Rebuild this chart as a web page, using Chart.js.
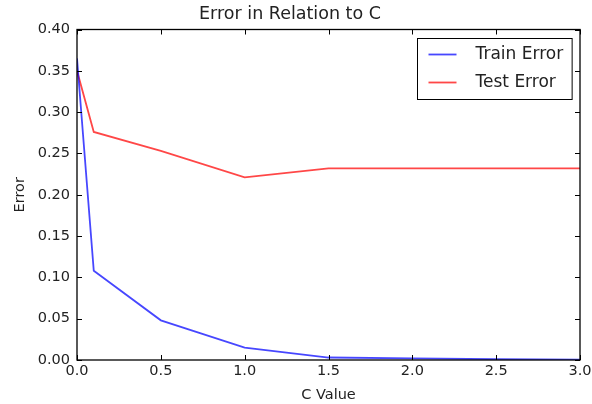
<!DOCTYPE html>
<html>
<head>
<meta charset="utf-8">
<script src="https://cdn.jsdelivr.net/npm/chart.js@4"></script>
<style>
  html, body { margin: 0; padding: 0; background: #fff; }
  #wrap { width: 592px; height: 404px; }
</style>
</head>
<body>
<div id="wrap"><canvas id="errChart" width="592" height="404"></canvas></div>
<script>
// values
const cValues = [0, 0.1, 0.5, 1.0, 1.5, 2.0, 2.5, 3.0];
const trainError = [0.365, 0.108, 0.048, 0.015, 0.003, 0.002, 0.001, 0.0005];
const testError = [0.35, 0.276, 0.253, 0.221, 0.232, 0.232, 0.232, 0.232];
const xTicks = [0, 0.5, 1.0, 1.5, 2.0, 2.5, 3.0];
const yTicks = [0, 0.05, 0.10, 0.15, 0.20, 0.25, 0.30, 0.35, 0.40];

const FONT = "'DejaVu Sans', sans-serif";
const TEXT = "#222";

// matplotlib style frame with inward ticks on all four sides
const framePlugin = {
    id: "frame",
    afterDatasetsDraw(chart) {
        const { ctx, chartArea: a, scales } = chart;
        ctx.save();
        ctx.strokeStyle = "#000";
        ctx.lineWidth = 1;
        ctx.beginPath();
        xTicks.forEach(v => {
            let x = Math.round(scales.x.getPixelForValue(v)) + 0.5;
            ctx.moveTo(x, a.bottom); ctx.lineTo(x, a.bottom - 5);
            ctx.moveTo(x, a.top); ctx.lineTo(x, a.top + 5);
        });
        yTicks.forEach(v => {
            let y = Math.round(scales.y.getPixelForValue(v)) + 0.5;
            ctx.moveTo(a.left, y); ctx.lineTo(a.left + 5, y);
            ctx.moveTo(a.right, y); ctx.lineTo(a.right - 5, y);
        });
        ctx.stroke();
        ctx.lineWidth = 1.3;
        ctx.strokeRect(a.left, a.top, a.right - a.left, a.bottom - a.top);
        ctx.restore();
    }
};

// legend box drawn inside the plot, upper right
const legendPlugin = {
    id: "innerLegend",
    afterDraw(chart) {
        const { ctx, chartArea: a } = chart;
        const sets = chart.data.datasets;
        ctx.save();
        ctx.font = "17px " + FONT;
        let textW = Math.max(...sets.map(d => ctx.measureText(d.label).width));
        let w = 58 + textW + 9, h = 61;
        let left = Math.round(a.right - 8 - w) + 0.5, top = Math.round(a.top + 8) + 0.5;
        ctx.fillStyle = "#fff";
        ctx.fillRect(left, top, w, h);
        ctx.strokeStyle = "#000";
        ctx.lineWidth = 1;
        ctx.strokeRect(left, top, w, h);
        sets.forEach((d, i) => {
            let y = top + 16 + i * 28;
            ctx.strokeStyle = d.borderColor;
            ctx.lineWidth = d.borderWidth;
            ctx.beginPath();
            ctx.moveTo(left + 11, y); ctx.lineTo(left + 39, y);
            ctx.stroke();
            ctx.fillStyle = TEXT;
            ctx.textBaseline = "middle";
            ctx.fillText(d.label, left + 58, y);
        });
        ctx.restore();
    }
};

const chart = new Chart(document.getElementById("errChart"), {
    type: "line",
    data: {
        datasets: [
            {
                label: "Train Error",
                data: cValues.map((c, i) => ({ x: c, y: trainError[i] })),
                borderColor: "rgba(0, 0, 255, 0.72)",
                borderWidth: 1.8,
                pointRadius: 0,
                tension: 0
            },
            {
                label: "Test Error",
                data: cValues.map((c, i) => ({ x: c, y: testError[i] })),
                borderColor: "rgba(255, 0, 0, 0.72)",
                borderWidth: 1.8,
                pointRadius: 0,
                tension: 0
            }
        ]
    },
    options: {
        responsive: false,
        animation: false,
        layout: { padding: { left: 0, right: 12, top: 0, bottom: 0 } },
        plugins: {
            legend: { display: false },
            tooltip: { enabled: false },
            title: {
                display: true,
                text: "Error in Relation to C",
                color: TEXT,
                font: { family: FONT, size: 17.5, weight: "normal" },
                padding: { top: 4, bottom: 4.5 }
            }
        },
        scales: {
            x: {
                type: "linear",
                min: 0,
                max: 3,
                afterBuildTicks: s => { s.ticks = xTicks.map(v => ({ value: v })); },
                afterFit: s => { s.height = 44; s.paddingRight = 0; s.paddingLeft = 0; },
                grid: { display: false, drawTicks: false },
                border: { display: false },
                ticks: {
                    color: TEXT,
                    padding: 3,
                    maxRotation: 0,
                    font: { family: FONT, size: 14.5 },
                    callback: v => v.toFixed(1)
                },
                title: {
                    display: true,
                    text: "C Value",
                    color: TEXT,
                    padding: { top: 0, bottom: 0 },
                    font: { family: FONT, size: 14.5 }
                }
            },
            y: {
                min: 0,
                max: 0.4,
                afterBuildTicks: s => { s.ticks = yTicks.map(v => ({ value: v })); },
                afterFit: s => { s.width = 77; },
                grid: { display: false, drawTicks: false },
                border: { display: false },
                ticks: {
                    color: TEXT,
                    padding: 7,
                    font: { family: FONT, size: 14.5 },
                    callback: v => v.toFixed(2)
                },
                title: {
                    display: true,
                    text: "Error",
                    color: TEXT,
                    padding: { top: 12, bottom: 0 },
                    font: { family: FONT, size: 14.5 }
                }
            }
        }
    },
    plugins: [framePlugin, legendPlugin]
});
</script>
</body>
</html>
